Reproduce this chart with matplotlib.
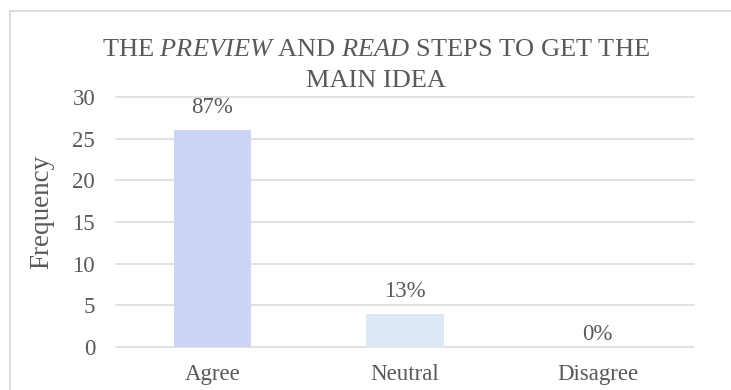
import matplotlib
matplotlib.use("Agg")
import matplotlib.pyplot as plt
from matplotlib.lines import Line2D

# Survey responses
categories = ["Agree", "Neutral", "Disagree"]
frequency = [26, 4, 0]
percent_labels = ["87%", "13%", "0%"]
y_ticks = [0, 5, 10, 15, 20, 25, 30]

bar_colors = ["#CCD5F8", "#DDE8F5", "#DDE8F5"]
text_color = "#595959"
grid_color = "#D9D9D9"

plt.rcParams["font.family"] = ["Liberation Serif", "DejaVu Serif"]
plt.rcParams["mathtext.fontset"] = "custom"
plt.rcParams["mathtext.rm"] = "Liberation Serif"
plt.rcParams["mathtext.it"] = "Liberation Serif:italic"

W, H = 731, 390
fig = plt.figure(figsize=(W / 100, H / 100), dpi=100)
fig.patch.set_facecolor("white")

ax = fig.add_axes([116 / W, 1 - 347 / H, (694 - 116) / W, (347 - 97) / H])
ax.set_facecolor("none")

x = list(range(len(categories)))
ax.bar(x, frequency, width=0.40, color=bar_colors, zorder=2)

ax.set_xlim(-0.5, len(categories) - 0.5)
ax.set_ylim(0, 30)
for t in y_ticks:
    ax.axhline(t, color=grid_color, lw=1.1, zorder=1, clip_on=False)

ax.set_yticks(y_ticks)
ax.set_xticks(x)
ax.set_xticklabels(categories)
ax.tick_params(axis="both", length=0, labelsize=16.5, colors=text_color)
ax.tick_params(axis="y", pad=15)
ax.tick_params(axis="x", pad=12)
for s in ax.spines.values():
    s.set_visible(False)

# Percentage labels above each bar
for xi, v, lab in zip(x, frequency, percent_labels):
    off = 12.2 if v > 0 else 5.0
    ax.annotate(lab, (xi, v), xytext=(0, off), textcoords="offset points",
                ha="center", va="baseline", fontsize=16.5, color=text_color)

# Title with italic step names
fig.text(376 / W, 1 - 56 / H,
         r"THE $\mathit{PREVIEW}$ AND $\mathit{READ}$ STEPS TO GET THE",
         ha="center", va="baseline", fontsize=19, color=text_color)
fig.text(376 / W, 1 - 87 / H, "MAIN IDEA",
         ha="center", va="baseline", fontsize=19, color=text_color)

fig.text(42 / W, 1 - 212 / H, "Frequency", rotation=90,
         ha="center", va="center", fontsize=19.5, color=text_color)

# Chart area border
fig.add_artist(Line2D([10 / W, 10 / W], [0, 1 - 11 / H], transform=fig.transFigure,
                      color=grid_color, lw=1.3))
fig.add_artist(Line2D([10 / W, 1], [1 - 11 / H, 1 - 11 / H], transform=fig.transFigure,
                      color=grid_color, lw=1.3))

fig.savefig("out.png", dpi=100)
